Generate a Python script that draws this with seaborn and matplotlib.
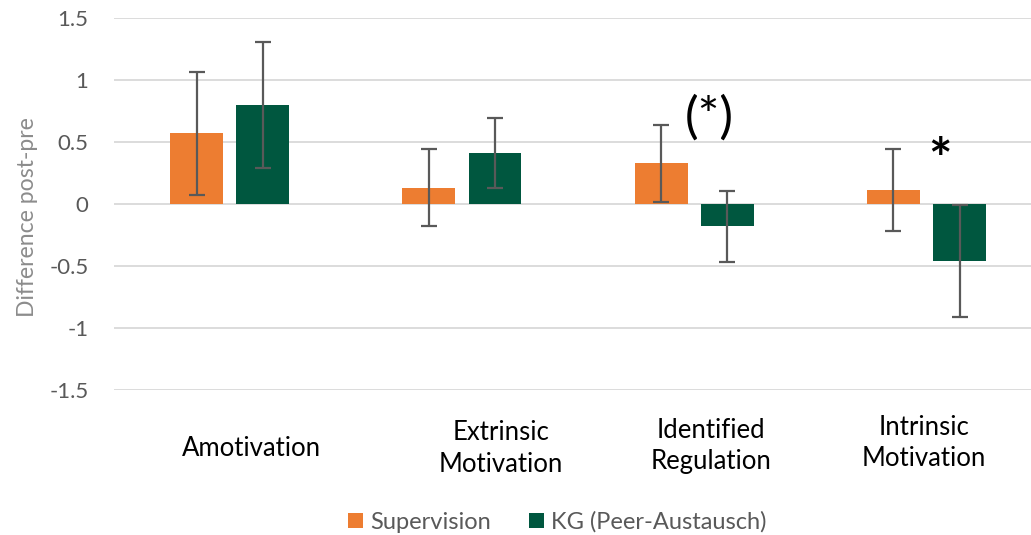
import matplotlib
matplotlib.use("Agg")
import matplotlib.pyplot as plt
import matplotlib.transforms as mtransforms
import seaborn as sns
import pandas as pd

# Motivation change scores (post minus pre) per group
categories = ["Amotivation", "Extrinsic\nMotivation", "Identified\nRegulation", "Intrinsic\nMotivation"]
groups = ["Supervision", "KG (Peer-Austausch)"]
supervision_mean = [0.57, 0.13, 0.33, 0.11]
supervision_err = [0.495, 0.31, 0.31, 0.33]
kg_mean = [0.80, 0.41, -0.18, -0.46]
kg_err = [0.51, 0.28, 0.285, 0.45]
significance = ["", "", "(*)", "*"]

# Category label nudges (points) as laid out under each group
label_dx = [16, 28, 12, -2]
label_dy = [-2, -2, 0, 2]

colors = {"Supervision": "#ED7D31", "KG (Peer-Austausch)": "#00573F"}
grey = "#595959"

df = pd.DataFrame({
    "category": categories * 2,
    "group": [groups[0]] * len(categories) + [groups[1]] * len(categories),
    "value": supervision_mean + kg_mean,
})

sns.set_theme(style="white")
plt.rcParams["font.family"] = ["Lato", "DejaVu Sans"]

fig = plt.figure(figsize=(10.31, 5.35), dpi=100)
ax = fig.add_axes([0.1101, 0.271, 0.9011, 0.6953])

sns.barplot(data=df, x="category", y="value", hue="group", order=categories,
            hue_order=groups, palette=colors, saturation=1, width=0.57, gap=0.2,
            linewidth=0, errorbar=None, ax=ax, zorder=2)

# Error bars centred on each drawn bar
for container, means, errs in zip(ax.containers, [supervision_mean, kg_mean],
                                  [supervision_err, kg_err]):
    xs = [b.get_x() + b.get_width() / 2 for b in container]
    ax.errorbar(xs, means, yerr=errs, fmt="none", ecolor=grey, elinewidth=1.6,
                capsize=6, capthick=1.6, zorder=3)

# Significance markers
ax.text(2.065, 0.69, significance[2], ha="center", va="center", fontsize=37,
        color="black")
ax.text(3.06, 0.34, significance[3], ha="center", va="center", fontsize=40,
        color="black", fontweight="bold")

ax.set_ylim(-1.5, 1.5)
ax.set_xlim(-0.5, 3.5)
ax.set_yticks([-1.5, -1, -0.5, 0, 0.5, 1, 1.5])
ax.set_yticklabels(["-1.5", "-1", "-0.5", "0", "0.5", "1", "1.5"])
ax.grid(axis="y", color="#D9D9D9", linewidth=1.3, zorder=0)
ax.set_axisbelow(True)
for s in ax.spines.values():
    s.set_visible(False)

ax.tick_params(axis="y", length=0, pad=18, labelsize=16, labelcolor=grey)
ax.tick_params(axis="x", length=0, labelbottom=False)

# Category names below the plot area
base = ax.get_xaxis_transform()
for i, name in enumerate(categories):
    off = mtransforms.ScaledTranslation(label_dx[i] / 72, label_dy[i] / 72,
                                        fig.dpi_scale_trans)
    ax.text(i, -0.15, name, transform=base + off, ha="center", va="center",
            multialignment="center", fontsize=18.5, color="black",
            linespacing=1.32)

ax.set_xlabel("")
ax.set_ylabel("Difference post-pre", fontsize=16.6, color="#8C8C8C")
ax.yaxis.set_label_coords(-0.081, 0.465)

handles, labels = ax.get_legend_handles_labels()
ax.get_legend().remove()
fig.legend(handles, labels, loc="center", bbox_to_anchor=(557.5 / 1031, 1 - 522 / 535),
           ncol=2, frameon=False, fontsize=17, labelcolor=grey,
           handlelength=0.65, handleheight=0.65, handletextpad=0.3, columnspacing=1.6)

fig.savefig("out.png", dpi=100)
